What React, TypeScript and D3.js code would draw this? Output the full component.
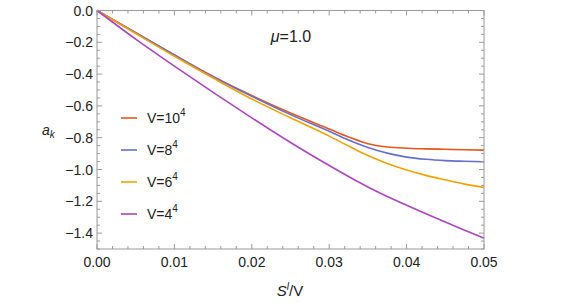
import React from "react";
import * as d3 from "d3";

const sValues = [0, 0.005, 0.01, 0.015, 0.02, 0.025, 0.03, 0.0325, 0.035, 0.0375, 0.04, 0.0425, 0.045, 0.0475, 0.05];
const v10 = [0, -0.14, -0.28, -0.415, -0.535, -0.645, -0.745, -0.795, -0.838, -0.858, -0.866, -0.870, -0.873, -0.876, -0.878];
const v8 = [0, -0.14, -0.28, -0.417, -0.54, -0.655, -0.76, -0.815, -0.862, -0.897, -0.922, -0.936, -0.944, -0.948, -0.951];
const v6 = [0, -0.145, -0.288, -0.425, -0.557, -0.675, -0.79, -0.852, -0.912, -0.962, -1.003, -1.037, -1.065, -1.092, -1.113];
const v4 = [0, -0.18, -0.35, -0.515, -0.675, -0.83, -0.975, -1.044, -1.11, -1.17, -1.225, -1.278, -1.33, -1.382, -1.432];

const seriesNames = ["10", "8", "6", "4"];
const seriesValues = [v10, v8, v6, v4];
const seriesColors = ["#E8561C", "#6470CC", "#F5A000", "#AE45C0"];

const xTicks = [0, 0.01, 0.02, 0.03, 0.04, 0.05];
const yTicks = [0, -0.2, -0.4, -0.6, -0.8, -1.0, -1.2, -1.4];

export default function App() {
  const W = 581, H = 307;
  const x = d3.scaleLinear().domain([0, 0.05]).range([97, 484]);
  const y = d3.scaleLinear().domain([-1.5, 0]).range([249, 10.5]);
  const frameColor = "#9a9a9a";
  const font = "'Liberation Sans', Arial, sans-serif";

  const line = d3
    .line<[number, number]>()
    .x((d) => x(d[0]))
    .y((d) => y(d[1]))
    .curve(d3.curveMonotoneX);

  const xMinor = d3.range(0, 0.05 + 1e-9, 0.002);
  const yMinor = d3.range(0, -1.5 - 1e-9, -0.05);

  const [x0, x1] = x.range();
  const [yb, yt] = y.range();

  return (
    <svg width={W} height={H} style={{ display: "block", position: "absolute", left: 0, top: 0 }} fontFamily={font}>
      <rect x={0} y={0} width={W} height={H} fill="#fff" />
      {seriesValues.map((vals, i) => (
        <path
          key={i}
          d={line(sValues.map((s, j) => [s, vals[j]] as [number, number])) || ""}
          fill="none"
          stroke={seriesColors[i]}
          strokeWidth={1.6}
        />
      ))}
      {/* frame */}
      <rect x={x0} y={yt} width={x1 - x0} height={yb - yt} fill="none" stroke={frameColor} strokeWidth={1} />
      {/* x ticks */}
      {xMinor.map((t, i) => {
        const major = xTicks.some((m) => Math.abs(m - t) < 1e-9);
        const len = major ? 5 : 3;
        return (
          <g key={"xm" + i}>
            <line x1={x(t)} x2={x(t)} y1={yb} y2={yb - len} stroke={frameColor} />
            <line x1={x(t)} x2={x(t)} y1={yt} y2={yt + len} stroke={frameColor} />
          </g>
        );
      })}
      {yMinor.map((t, i) => {
        const major = yTicks.some((m) => Math.abs(m - t) < 1e-9);
        const len = major ? 5 : 3;
        return (
          <g key={"ym" + i}>
            <line x1={x0} x2={x0 + len} y1={y(t)} y2={y(t)} stroke={frameColor} />
            <line x1={x1} x2={x1 - len} y1={y(t)} y2={y(t)} stroke={frameColor} />
          </g>
        );
      })}
      {xTicks.map((t) => (
        <text key={"xl" + t} x={x(t)} y={267} textAnchor="middle" fontSize={14} fill="#222">
          {t.toFixed(2)}
        </text>
      ))}
      {yTicks.map((t) => (
        <text key={"yl" + t} x={93} y={y(t) + 5} textAnchor="end" fontSize={14} fill="#222">
          {t === 0 ? "0.0" : "\u2212" + Math.abs(t).toFixed(1)}
        </text>
      ))}
      {/* axis labels */}
      <text x={290} y={296} textAnchor="middle" fontSize={15} fill="#222">
        <tspan fontStyle="italic">S</tspan>
        <tspan fontStyle="italic" fontSize={10} dy={-6}>l</tspan>
        <tspan dy={6}>/V</tspan>
      </text>
      <text x={42} y={135} fontSize={14} fill="#222">
        <tspan fontStyle="italic">a</tspan>
        <tspan fontStyle="italic" fontSize={10} dy={3}>k</tspan>
      </text>
      {/* title */}
      <text x={291} y={42} textAnchor="middle" fontSize={16} fill="#222">
        <tspan fontStyle="italic">μ</tspan>
        <tspan>=1.0</tspan>
      </text>
      {/* legend */}
      {seriesNames.map((n, i) => {
        const ly = 118 + i * 32;
        return (
          <g key={"lg" + i}>
            <line x1={121} x2={137} y1={ly} y2={ly} stroke={seriesColors[i]} strokeWidth={1.6} />
            <text x={147} y={ly + 5} fontSize={14} fill="#222">
              <tspan>V={n}</tspan>
              <tspan fontSize={10} dy={-7}>4</tspan>
            </text>
          </g>
        );
      })}
    </svg>
  );
}
